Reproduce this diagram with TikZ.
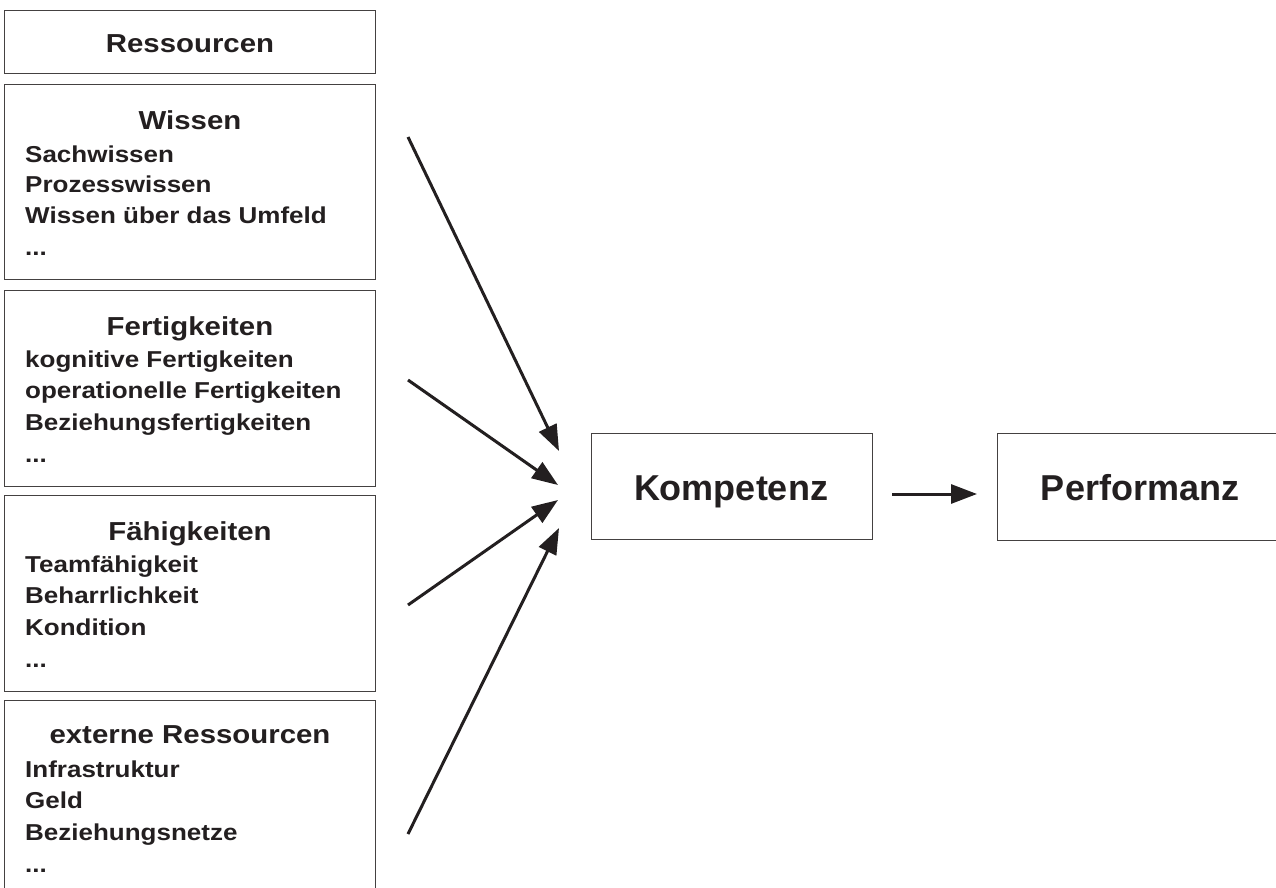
\documentclass[tikz,border=0pt]{standalone}
\usepackage{fontspec}
\setmainfont{Liberation Sans}
\newfontfamily\widefont{Liberation Sans}[FakeStretch=1.13]
\usetikzlibrary{arrows.meta}
\definecolor{ink}{HTML}{231F20}
\tikzset{
  box/.style={draw=ink!85, line width=1.3pt, anchor=north west, inner sep=0pt},
  ttl/.style={anchor=base, inner sep=0pt, font=\widefont\bfseries\fontsize{26}{26}\selectfont, text=ink},
  itm/.style={anchor=base west, inner sep=0pt, font=\widefont\bfseries\fontsize{23}{23}\selectfont, text=ink},
  big/.style={anchor=base, inner sep=0pt, font=\bfseries\fontsize{36}{36}\selectfont, text=ink},
  arr/.style={draw=ink, line width=3pt, -{Triangle[length=26pt,width=19pt]}}
}
\begin{document}
\begin{tikzpicture}[x=1pt,y=-1pt]
\clip (0,0) rectangle (1276,888);
\fill[white] (0,0) rectangle (1276,888);
% left boxes
\node[box, minimum width=371pt, minimum height=63pt] (res) at (4,10) {};
\node[box, minimum width=371pt, minimum height=195pt] (wis) at (4,84) {};
\node[box, minimum width=371pt, minimum height=196pt] (fer) at (4,290) {};
\node[box, minimum width=371pt, minimum height=196pt] (fae) at (4,495) {};
\node[box, minimum width=371pt, minimum height=200pt] (ext) at (4,700) {};
% texts
\node[ttl] (tres) at (190,53) {Ressourcen};
\node[ttl] (twis) at (190,130) {Wissen};
\node[itm] (w1) at (25,162) {Sachwissen};
\node[itm] (w2) at (25,192) {Prozesswissen};
\node[itm] (w3) at (25,223) {Wissen über das Umfeld};
\node[itm] (w4) at (25,255) {...};
\node[ttl] (tfer) at (190,335) {Fertigkeiten};
\node[itm] (f1) at (25,367) {kognitive Fertigkeiten};
\node[itm] (f2) at (25,398) {operationelle Fertigkeiten};
\node[itm] (f3) at (25,430) {Beziehungsfertigkeiten};
\node[itm] (f4) at (25,462) {...};
\node[ttl] (tfae) at (190,540) {Fähigkeiten};
\node[itm] (a1) at (25,572) {Teamfähigkeit};
\node[itm] (a2) at (25,603) {Beharrlichkeit};
\node[itm] (a3) at (25,635) {Kondition};
\node[itm] (a4) at (25,667) {...};
\node[ttl] (text) at (190,743) {externe Ressourcen};
\node[itm] (e1) at (25,777) {Infrastruktur};
\node[itm] (e2) at (25,808) {Geld};
\node[itm] (e3) at (25,840) {Beziehungsnetze};
\node[itm] (e4) at (25,872) {...};
% right boxes
\node[box, minimum width=281pt, minimum height=106pt] (komp) at (591,433) {};
\node[big] (tkomp) at (731,500) {Kompetenz};
\node[box, minimum width=290pt, minimum height=107pt] (perf) at (997,433) {};
\node[big] (tperf) at (1140,500) {Performanz};
% arrow end points
\coordinate (s1) at (408,137);
\coordinate (t1) at (559,451);
\coordinate (s2) at (408,380);
\coordinate (t2) at (558,485);
\coordinate (s3) at (408,605);
\coordinate (t3) at (558,500);
\coordinate (s4) at (408,834);
\coordinate (t4) at (559,528);
\coordinate (s5) at (892,494);
\coordinate (t5) at (977,494);
\draw[arr] (s1) -- (t1);
\draw[arr] (s2) -- (t2);
\draw[arr] (s3) -- (t3);
\draw[arr] (s4) -- (t4);
\draw[arr] (s5) -- (t5);
\end{tikzpicture}
\end{document}
